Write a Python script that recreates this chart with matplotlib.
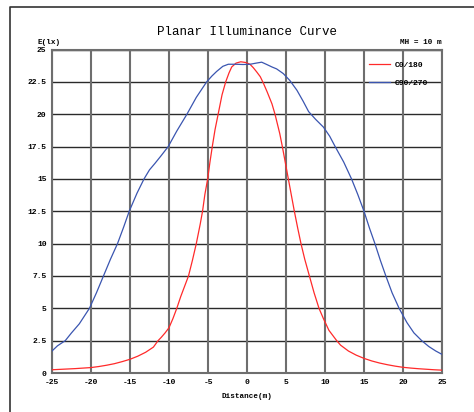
import matplotlib
matplotlib.use("Agg")
import matplotlib.pyplot as plt
from matplotlib.lines import Line2D

# Data
x_c0 = [-25, -24, -23, -22, -21, -20, -19, -18, -17, -16, -15, -14, -13, -12, -11.4, -11, -10.5,
        -10, -9.5, -9, -8.5, -8, -7.5, -7, -6.5, -6, -5.7, -5.4, -5.04, -4.75, -4.45, -4.1, -3.7,
        -3.2, -2.73, -2.3, -1.96, -1.4, -0.8, -0.2, 0.38, 0.8, 1.24, 1.7, 2.1, 2.6, 3.2, 3.59,
        4.2, 4.53, 4.9, 5.3, 5.7, 6.07, 6.5, 6.92, 7.4, 8.0, 8.6, 9.23, 9.8, 10.5, 11.5, 12, 13,
        14, 15, 16, 17, 18, 19, 20, 21, 22, 23, 24, 25]
e_c0 = [0.25, 0.28, 0.31, 0.34, 0.38, 0.42, 0.5, 0.6, 0.72, 0.88, 1.06, 1.3, 1.6, 2.0, 2.5, 2.75, 3.1,
        3.5, 4.2, 5.0, 5.9, 6.7, 7.5, 8.7, 10.0, 11.5, 12.5, 13.8, 15.0, 16.3, 17.5, 18.8, 20.0,
        21.5, 22.5, 23.2, 23.65, 23.95, 24.05, 24.0, 23.86, 23.6, 23.27, 22.9, 22.4, 21.7, 20.8, 20.0,
        18.5, 17.5, 16.3, 15.0, 13.7, 12.5, 11.2, 10.0, 8.8, 7.5, 6.2, 5.0, 4.2, 3.3, 2.5, 2.15, 1.7,
        1.38, 1.13, 0.93, 0.77, 0.64, 0.53, 0.44, 0.38, 0.33, 0.29, 0.25, 0.22]

x_c90 = [-25, -24.3, -23.3, -22.5, -21.5, -20.2, -19.3, -18.4, -17.5, -16.6, -15.8, -15.1, -14.1,
         -13.2, -12.5, -11.8, -11, -10.1, -9, -7.7, -6.5, -5.17, -4.5, -3.9, -3.1, -2.4, -1.5,
         -0.5, 0.4, 1.2, 1.88, 2.5, 3.2, 3.8, 4.65, 5.5, 6.4, 7.2, 7.9, 8.8, 9.8, 10.6, 11.3,
         12.4, 13.4, 14.2, 15.0, 15.7, 16.4, 17.1, 17.8, 18.6, 19.5, 20.5, 21.4, 22.4, 23.3, 24.2, 25]
e_c90 = [1.7, 2.1, 2.5, 3.1, 3.8, 5.0, 6.2, 7.5, 8.8, 10.0, 11.3, 12.5, 13.9,
         15.0, 15.7, 16.2, 16.8, 17.5, 18.7, 20.0, 21.3, 22.5, 22.95, 23.3, 23.7, 23.86, 23.86,
         23.84, 23.86, 23.95, 24.02, 23.85, 23.65, 23.5, 23.14, 22.6, 21.85, 21.0, 20.2, 19.6, 19.0, 18.3, 17.5,
         16.3, 15.0, 13.8, 12.5, 11.2, 10.0, 8.7, 7.5, 6.2, 5.0, 3.9, 3.1, 2.5, 2.05, 1.7, 1.44]

x_ticks = [-25, -20, -15, -10, -5, 0, 5, 10, 15, 20, 25]
y_ticks = [0, 2.5, 5, 7.5, 10, 12.5, 15, 17.5, 20, 22.5, 25]
y_labels = ["0", "2.5", "5", "7.5", "10", "12.5", "15", "17.5", "20", "22.5", "25"]
series_labels = ["C0/180", "C90/270"]

W, H = 474, 412
fig = plt.figure(figsize=(W / 100, H / 100), dpi=100)
ax = fig.add_axes([52 / W, 1 - 373 / H, (442 - 52) / W, (373 - 49.5) / H])

mono = "Liberation Mono"

for yv in y_ticks:
    ax.axhline(yv, color="#2a2a2a", lw=1.0, zorder=1)
for xv in x_ticks:
    ax.axvline(xv, color="#6e6e6e", lw=1.5, zorder=1)

ax.plot(x_c0, e_c0, color="#ff2a2a", lw=0.9, label=series_labels[0], zorder=3)
ax.plot(x_c90, e_c90, color="#3a55b0", lw=0.9, label=series_labels[1], zorder=3)

ax.set_xlim(-25, 25)
ax.set_ylim(0, 25)
ax.set_xticks(x_ticks)
ax.set_xticklabels([str(v) for v in x_ticks])
ax.set_yticks(y_ticks)
ax.set_yticklabels(y_labels)
ax.tick_params(length=0, pad=4)
for lab in ax.get_xticklabels() + ax.get_yticklabels():
    lab.set_fontfamily(mono)
    lab.set_fontweight("bold")
    lab.set_fontsize(5.8)
for s in ax.spines.values():
    s.set_color("#6e6e6e")
    s.set_linewidth(1.5)

ax.set_xlabel("Distance(m)", fontfamily=mono, fontweight="bold", fontsize=5.5, labelpad=5)

fig.text(247 / W, 1 - 32 / H, "Planar Illuminance Curve", ha="center", va="center",
         fontfamily=mono, fontsize=9)
fig.text(38 / W, 1 - 43 / H, "E(lx)", ha="left", va="center",
         fontfamily=mono, fontweight="bold", fontsize=5.5)
fig.text(442 / W, 1 - 43 / H, "MH = 10 m", ha="right", va="center",
         fontfamily=mono, fontweight="bold", fontsize=5.5)

leg = ax.legend(frameon=False, loc="upper left", bbox_to_anchor=((369 - 52) / 390, (373 - 61) / 323.5),
                prop={"family": mono, "weight": "bold", "size": 5.8},
                handlelength=2.6, labelspacing=1.3, borderaxespad=0, borderpad=0, handletextpad=0.6)

# outer frame
fig.add_artist(Line2D([9.5 / W, 9.5 / W, 1.0], [0, 1 - 6.5 / H, 1 - 6.5 / H],
                      transform=fig.transFigure, color="#333333", lw=1.2))

fig.savefig("out.png", dpi=100)
